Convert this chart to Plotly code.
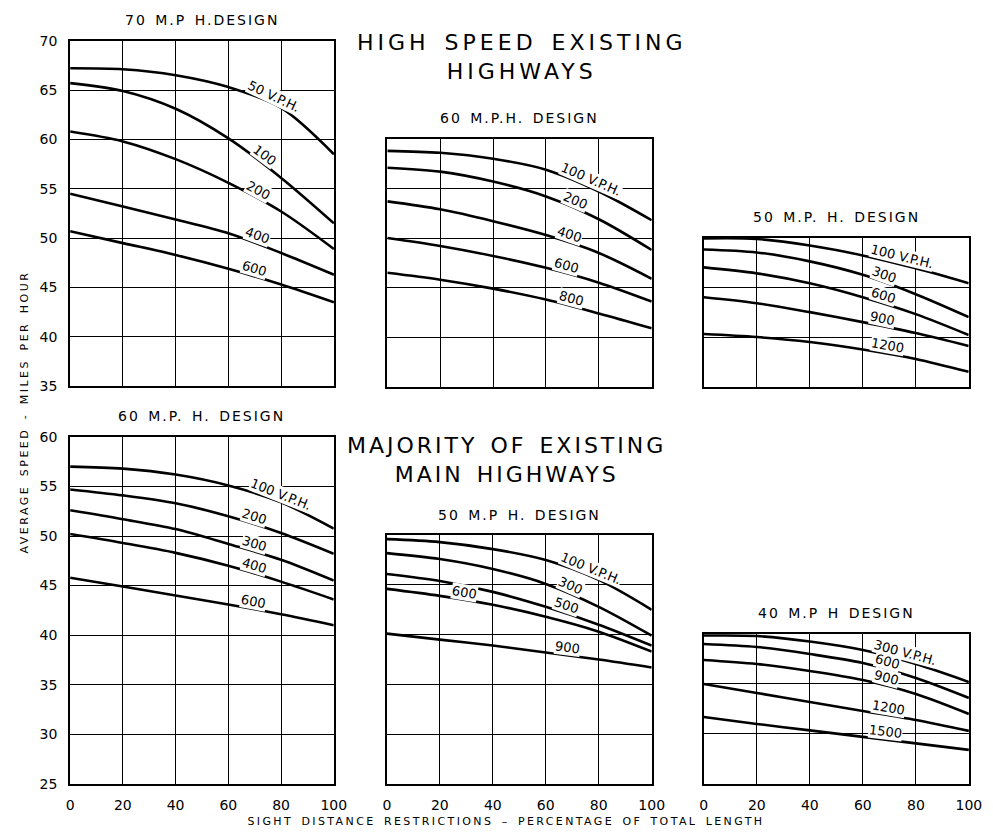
import numpy as np
import plotly.graph_objects as go

# ---------------------------------------------------------------- data
pct = [0, 20, 40, 60, 80, 100]  # sight distance restrictions, % of total length

# High speed existing highways
hs70_names = ["50 V.P.H.", "100", "200", "400", "600"]
hs70_speed = [
    [67.2, 67.1, 66.5, 65.3, 63.2, 58.5],
    [65.7, 64.9, 63.1, 60.1, 56.1, 51.5],
    [60.8, 59.8, 58.0, 55.6, 52.7, 48.9],
    [54.5, 53.2, 51.9, 50.5, 48.5, 46.3],
    [50.7, 49.5, 48.3, 46.9, 45.3, 43.5],
]

hs60_names = ["100 V.P.H.", "200", "400", "600", "800"]
hs60_speed = [
    [58.8, 58.6, 58.0, 56.9, 54.7, 51.8],
    [57.1, 56.7, 55.7, 54.2, 51.9, 48.8],
    [53.7, 52.9, 51.7, 50.3, 48.5, 45.9],
    [50.0, 49.2, 48.2, 47.0, 45.5, 43.6],
    [46.5, 45.8, 44.9, 43.8, 42.4, 40.9],
]

hs50_names = ["100 V.P.H.", "300", "600", "900", "1200"]
hs50_speed = [
    [49.9, 49.85, 49.2, 48.2, 46.9, 45.4],
    [48.8, 48.5, 47.6, 46.25, 44.3, 42.0],
    [47.0, 46.4, 45.4, 44.0, 42.3, 40.2],
    [44.0, 43.4, 42.5, 41.5, 40.4, 39.1],
    [40.3, 40.0, 39.5, 38.75, 37.8, 36.5],
]

# Majority of existing main highways
mh60_names = ["100 V.P.H.", "200", "300", "400", "600"]
mh60_speed = [
    [57.0, 56.8, 56.2, 55.1, 53.4, 50.75],
    [54.7, 54.1, 53.3, 52.0, 50.3, 48.2],
    [52.6, 51.7, 50.7, 49.2, 47.6, 45.5],
    [50.2, 49.3, 48.3, 47.0, 45.4, 43.6],
    [45.8, 44.9, 44.0, 43.1, 42.1, 41.0],
]

mh50_names = ["100 V.P.H.", "300", "500", "600", "900"]
mh50_speed = [
    [49.6, 49.3, 48.6, 47.5, 45.5, 42.5],
    [48.2, 47.6, 46.6, 45.1, 42.8, 39.9],
    [46.1, 45.4, 44.3, 42.8, 41.0, 38.9],
    [44.6, 43.9, 43.0, 41.8, 40.3, 38.3],
    [40.1, 39.5, 38.9, 38.2, 37.5, 36.7],
]

mh40_names = ["300 V.P.H.", "600", "900", "1200", "1500"]
mh40_speed = [
    [39.85, 39.8, 39.25, 38.4, 37.0, 35.2],
    [39.0, 38.7, 38.0, 37.1, 35.6, 33.6],
    [37.4, 37.0, 36.3, 35.4, 34.0, 32.0],
    [35.0, 34.1, 33.2, 32.3, 31.4, 30.3],
    [31.7, 31.0, 30.35, 29.7, 29.05, 28.4],
]

x_ticks = [0, 20, 40, 60, 80, 100]

# ---------------------------------------------------------------- layout
W, H = 993, 834
FONT = "DejaVu Sans"

# pixel box of each panel: (left, right, top, bottom), y range, title,
# curve-label positions along x, tick label flags
panels = [
    dict(names=hs70_names, speed=hs70_speed, box=(67.3, 335.7, 33.3, 385.7), yr=(35, 70),
         title="70 M.P H.DESIGN", lab_x=[76, 72, 70, 70, 69], xt=False, yt=True),
    dict(names=hs60_names, speed=hs60_speed, box=(390, 659, 133.5, 386.2), yr=(35, 60),
         title="60 M.P.H. DESIGN", lab_x=[76, 70, 68, 67, 69], xt=False, yt=False),
    dict(names=hs50_names, speed=hs50_speed, box=(712, 981.5, 234, 386.2), yr=(35, 50),
         title="50 M.P. H. DESIGN", lab_x=[74, 67, 67, 67, 69], xt=False, yt=False),
    dict(names=mh60_names, speed=mh60_speed, box=(67.3, 335.5, 437.3, 791), yr=(25, 60),
         title="60 M.P. H. DESIGN", lab_x=[79, 69, 69, 69, 69], xt=True, yt=True),
    dict(names=mh50_names, speed=mh50_speed, box=(389.5, 659, 537.5, 791), yr=(25, 50),
         title="50 M.P H. DESIGN", lab_x=[76, 68, 67, 29, 68], xt=True, yt=False),
    dict(names=mh40_names, speed=mh40_speed, box=(712, 981.7, 638.3, 791), yr=(25, 40),
         title="40 M.P H DESIGN", lab_x=[75, 68.5, 68, 69, 68], xt=True, yt=False),
]

fig = go.Figure()
annotations = []
spacing = {}  # annotation index -> letter spacing (px) of the stencil lettering
layout_axes = {}


def add_note(spread=None, **kw):
    if spread:
        spacing[len(annotations)] = spread
    annotations.append(kw)


for i, p in enumerate(panels, start=1):
    sfx = "" if i == 1 else str(i)
    xref, yref = "x" + sfx, "y" + sfx
    left, right, top, bottom = p["box"]
    y0, y1 = p["yr"]
    xpx = (right - left) / 100.0
    ypx = (bottom - top) / float(y1 - y0)

    for name, ys in zip(p["names"], p["speed"]):
        fig.add_trace(go.Scatter(
            x=pct, y=ys, mode="lines", name=name, showlegend=False,
            line=dict(color="black", width=2.6, shape="spline", smoothing=0.9),
            xaxis=xref, yaxis=yref, hoverinfo="skip",
        ))

    # curve labels, lying just above their line and following its slope
    for name, ys, lx in zip(p["names"], p["speed"], p["lab_x"]):
        ly = float(np.interp(lx, pct, ys))
        slope = (np.interp(lx + 6, pct, ys) - np.interp(lx - 6, pct, ys)) / 12.0
        ang = np.degrees(np.arctan(-slope * ypx / xpx))
        d = 8.0
        add_note(
            x=lx, y=ly, xref=xref, yref=yref, text=name, showarrow=False,
            textangle=ang, xshift=d * np.sin(np.radians(ang)),
            yshift=d * np.cos(np.radians(ang)),
            font=dict(family=FONT, size=13, color="black"),
            bgcolor="white", borderpad=0,
        )

    # panel heading
    add_note(
        spread=2,
        x=(left + right) / 2 / W, y=1 - (top - 21) / H, xref="paper", yref="paper",
        text=p["title"], showarrow=False, xanchor="center", yanchor="middle",
        font=dict(family=FONT, size=14, color="black"),
    )

    layout_axes["xaxis" + sfx] = dict(
        domain=[left / W, right / W], range=[0, 100], anchor=yref,
        tickvals=x_ticks, showgrid=True, gridcolor="black", gridwidth=1.4,
        showline=True, linecolor="black", linewidth=2, mirror=True,
        zeroline=False, ticks="", showticklabels=p["xt"], ticklabelstandoff=7,
        tickfont=dict(family=FONT, size=14, color="black"), fixedrange=True,
    )
    layout_axes["yaxis" + sfx] = dict(
        domain=[1 - bottom / H, 1 - top / H], range=[y0, y1], anchor=xref,
        dtick=5, showgrid=True, gridcolor="black", gridwidth=1.4,
        showline=True, linecolor="black", linewidth=2, mirror=True,
        zeroline=False, ticks="", showticklabels=p["yt"], ticklabelstandoff=8,
        tickfont=dict(family=FONT, size=14, color="black"), fixedrange=True,
    )

# group headings
add_note(
    spread=4,
    x=527 / W, y=1 - 50 / H, xref="paper", yref="paper",
    text="HIGH SPEED EXISTING<br>HIGHWAYS", showarrow=False,
    xanchor="center", yanchor="middle", align="center",
    font=dict(family=FONT, size=22, color="black"),
)
add_note(
    spread=3,
    x=511 / W, y=1 - 461 / H, xref="paper", yref="paper",
    text="MAJORITY OF EXISTING<br>MAIN HIGHWAYS",
    showarrow=False, xanchor="center", yanchor="middle", align="center",
    font=dict(family=FONT, size=22, color="black"),
)

# shared axis titles
add_note(
    spread=2.5,
    x=20 / W, y=1 - 412 / H, xref="paper", yref="paper",
    text="AVERAGE SPEED - MILES PER HOUR",
    showarrow=False, textangle=-90, xanchor="center", yanchor="middle",
    font=dict(family=FONT, size=11, color="black"),
)
add_note(
    spread=2.4,
    x=511 / W, y=1 - 829 / H, xref="paper", yref="paper",
    text="SIGHT DISTANCE RESTRICTIONS – PERCENTAGE OF TOTAL LENGTH",
    showarrow=False, xanchor="center", yanchor="middle",
    font=dict(family=FONT, size=11, color="black"),
)

fig.update_layout(
    width=W, height=H, margin=dict(l=0, r=0, t=0, b=0),
    paper_bgcolor="white", plot_bgcolor="white",
    annotations=annotations, showlegend=False, **layout_axes,
)

# wide-spaced lettering for the headings and axis titles
css = " ".join(
    '.annotation[data-index="%d"] text { letter-spacing: %gpx; word-spacing: %gpx; }'
    % (idx, s, s) for idx, s in spacing.items()
)
post = (
    "var st = document.createElement('style');"
    "st.textContent = %r;"
    "document.head.appendChild(st);" % css
)

fig.write_html("out.html", config={"displayModeBar": False}, post_script=post)
